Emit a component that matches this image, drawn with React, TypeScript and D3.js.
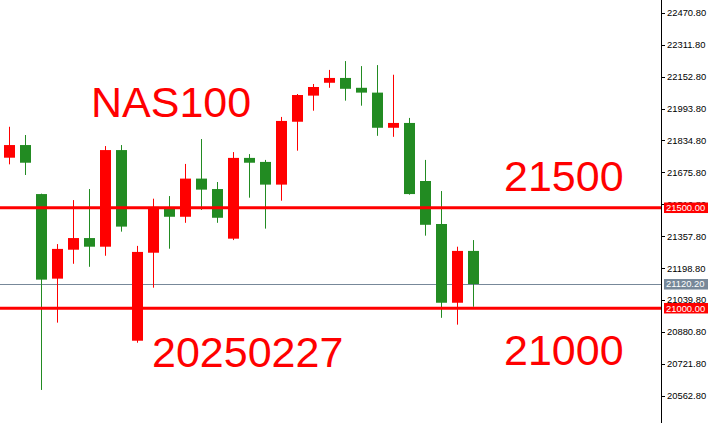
import React from "react";
import * as d3 from "d3";

const opens = [21749, 21812, 21568, 21147, 21291, 21349, 21306, 21787, 20838, 21276, 21497, 21455, 21645, 21593, 21346, 21748, 21728, 21615, 21928, 22058, 22122, 22146, 22097, 22073, 21898, 21922, 21633, 21419, 21027, 21285];
const highs = [21903, 21862, 21570, 21319, 21538, 21593, 21807, 21812, 21310, 21545, 21558, 21718, 21842, 21628, 21777, 21767, 21738, 21952, 22066, 22116, 22186, 22230, 22205, 22210, 22162, 21947, 21738, 21583, 21306, 21339];
const lows = [21716, 21663, 20593, 20928, 21221, 21206, 21261, 21381, 20828, 21102, 21296, 21425, 21489, 21425, 21339, 21550, 21396, 21535, 21784, 21983, 22097, 22033, 22008, 21858, 21853, 21565, 21361, 20952, 20918, 21007];
const closes = [21812, 21724, 21142, 21295, 21349, 21306, 21787, 21406, 21280, 21504, 21455, 21645, 21590, 21450, 21748, 21724, 21615, 21932, 22061, 22101, 22146, 22092, 22073, 21898, 21922, 21568, 21415, 21027, 21285, 21120.2];

const tickValues = [22470.8, 22311.8, 22152.8, 21993.8, 21834.8, 21675.8, 21516.8, 21357.8, 21198.8, 21039.8, 20880.8, 20721.8, 20562.8];
const levels = [21500, 21000];
const currentPrice = 21120.2;
const title = "NAS100";
const dateLabel = "20250227";
const levelLabels = ["21500", "21000"];

const W = 717;
const H = 423;
const AXIS_X = 661;
const RED = "#FF0000";
const GREEN = "#228B22";
const GREY = "#778899";

export default function App() {
  const y = d3.scaleLinear().domain([20562.8, 22470.8]).range([396, 12.7]);
  const x = d3.scaleLinear().domain([0, opens.length - 1]).range([9.5, 473.5]);
  const fmt = d3.format(".2f");
  const bodyW = 11;

  return (
    <svg
      width={W}
      height={H}
      style={{ position: "absolute", left: 0, top: 0, background: "#fff" }}
      fontFamily="'Liberation Sans', Arial, sans-serif"
    >
      <rect x={0} y={0} width={W} height={H} fill="#fff" />
      {/* current price line */}
      <line x1={0} x2={AXIS_X} y1={Math.round(y(currentPrice)) + 0.5} y2={Math.round(y(currentPrice)) + 0.5} stroke={GREY} strokeWidth={1} />
      {/* candles */}
      {opens.map((o, i) => {
        const c = closes[i];
        const up = c >= o;
        const col = up ? RED : GREEN;
        const cx = x(i);
        const top = y(Math.max(o, c));
        const bot = y(Math.min(o, c));
        return (
          <g key={i}>
            <rect x={cx - 0.5} y={y(highs[i])} width={1} height={y(lows[i]) - y(highs[i])} fill={col} />
            <rect x={cx - bodyW / 2} y={top} width={bodyW} height={Math.max(1, bot - top)} fill={col} />
          </g>
        );
      })}
      {/* level lines */}
      {levels.map((l) => (
        <line key={l} x1={0} x2={AXIS_X} y1={y(l)} y2={y(l)} stroke={RED} strokeWidth={3} />
      ))}
      {/* axis */}
      <line x1={AXIS_X + 0.5} x2={AXIS_X + 0.5} y1={0} y2={H} stroke="#000" strokeWidth={1} />
      {tickValues.map((t) => (
        <g key={t}>
          <line x1={AXIS_X} x2={AXIS_X + 4} y1={Math.round(y(t)) + 0.5} y2={Math.round(y(t)) + 0.5} stroke="#000" strokeWidth={1} />
          <text x={AXIS_X + 6} y={y(t)} dy="0.35em" fontSize={9.4} fill="#000">
            {fmt(t)}
          </text>
        </g>
      ))}
      {/* current price box */}
      <rect x={664} y={y(currentPrice) - 5} width={44} height={10.5} fill={GREY} />
      <text x={666} y={y(currentPrice)} dy="0.36em" fontSize={9.4} fill="#fff">
        {fmt(currentPrice)}
      </text>
      {levels.map((l) => (
        <g key={"b" + l}>
          <rect x={664} y={y(l) - 5.2} width={44} height={10.5} fill={RED} />
          <text x={666} y={y(l)} dy="0.36em" fontSize={9.4} fill="#fff">
            {fmt(l)}
          </text>
        </g>
      ))}
      {/* big annotations */}
      <text x={91} y={117} fontSize={43} fill={RED}>{title}</text>
      <text x={152} y={367} fontSize={43} fill={RED}>{dateLabel}</text>
      <text x={504} y={191} fontSize={43} fill={RED}>{levelLabels[0]}</text>
      <text x={504} y={365} fontSize={43} fill={RED}>{levelLabels[1]}</text>
    </svg>
  );
}
